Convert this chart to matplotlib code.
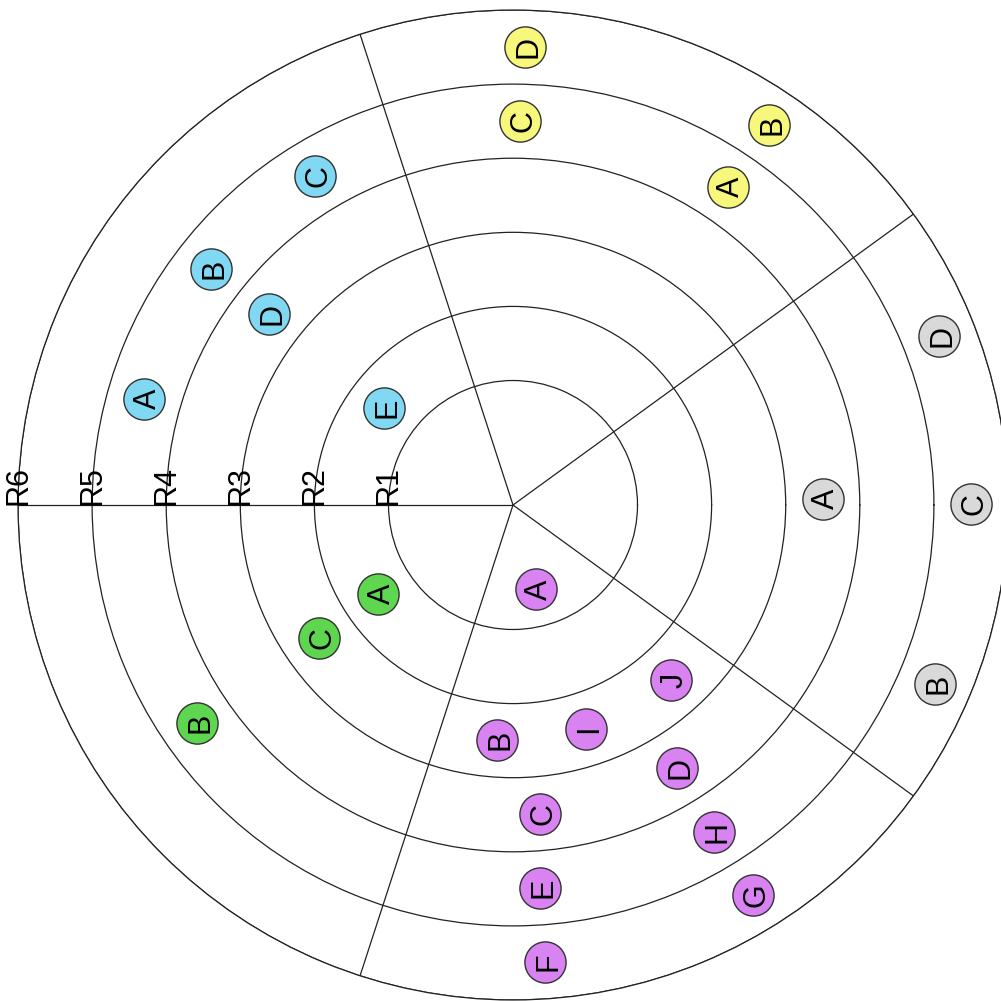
import matplotlib
matplotlib.use('Agg')
import matplotlib.pyplot as plt
import numpy as np

# ---- data ----
ring_labels = ['R1', 'R2', 'R3', 'R4', 'R5', 'R6']
ring_values = [1, 2, 3, 4, 5, 6]
sector_bounds_deg = [36, 108, 180, 252, 324]

blue_labels = ['A', 'B', 'C', 'D', 'E']
blue_angle = [164, 142, 121, 142, 143]
blue_r = [4.5, 4.5, 4.5, 3.5, 1.5]

yellow_labels = ['A', 'B', 'C', 'D']
yellow_angle = [56, 56, 89, 88.5]
yellow_r = [4.5, 5.5, 4.5, 5.5]

gray_labels = ['A', 'B', 'C', 'D']
gray_angle = [1.1, -23, 0.1, 21.7]
gray_r = [3.5, 5.5, 5.5, 5.5]

purple_labels = ['A', 'B', 'C', 'D', 'E', 'F', 'G', 'H', 'I', 'J']
purple_angle = [-75, -94, -85, -58, -86, -86, -58.4, -58.4, -72, -48]
purple_r = [0.5, 2.5, 3.5, 3.5, 4.5, 5.5, 5.5, 4.5, 2.5, 2.5]

green_labels = ['A', 'B', 'C']
green_angle = [213.5, 214.6, 214.5]
green_r = [1.5, 4.5, 2.5]

groups = [
    (blue_labels, blue_angle, blue_r, '#80d8f2'),
    (yellow_labels, yellow_angle, yellow_r, '#f7f77c'),
    (gray_labels, gray_angle, gray_r, '#d9d9d9'),
    (purple_labels, purple_angle, purple_r, '#d982f2'),
    (green_labels, green_angle, green_r, '#5fd650'),
]

FONT = ['Liberation Sans', 'DejaVu Sans']

fig = plt.figure(figsize=(10.01, 10.01), dpi=100)
ax = fig.add_axes([0.018, 0.001, 0.989, 0.989], projection='polar')
ax.set_ylim(-0.68, 6)
ax.set_yticks(ring_values)
ax.set_yticklabels([])
ax.set_xticks(np.deg2rad(sector_bounds_deg))
ax.set_xticklabels([])
ax.grid(True, color='#222222', linewidth=0.9, linestyle='-')
ax.spines['polar'].set_color('#222222')
ax.spines['polar'].set_linewidth(0.9)

# ring labels along the left radius
for lab, r in zip(ring_labels, ring_values):
    ax.text(np.pi, r, lab, rotation=90, ha='center', va='bottom',
            fontsize=22, family=FONT, color='black')

for labels, angs, rs, col in groups:
    th = np.deg2rad(angs)
    ax.scatter(th, rs, s=880, c=col, edgecolors='#333333', linewidths=1.0,
               zorder=3, clip_on=False)
    for lab, t, r in zip(labels, th, rs):
        ax.text(t, r, lab, rotation=90, rotation_mode='anchor',
                ha='center', va='center_baseline', fontsize=22,
                family=FONT, color='black', zorder=4)

fig.savefig('out.png', dpi=100)
